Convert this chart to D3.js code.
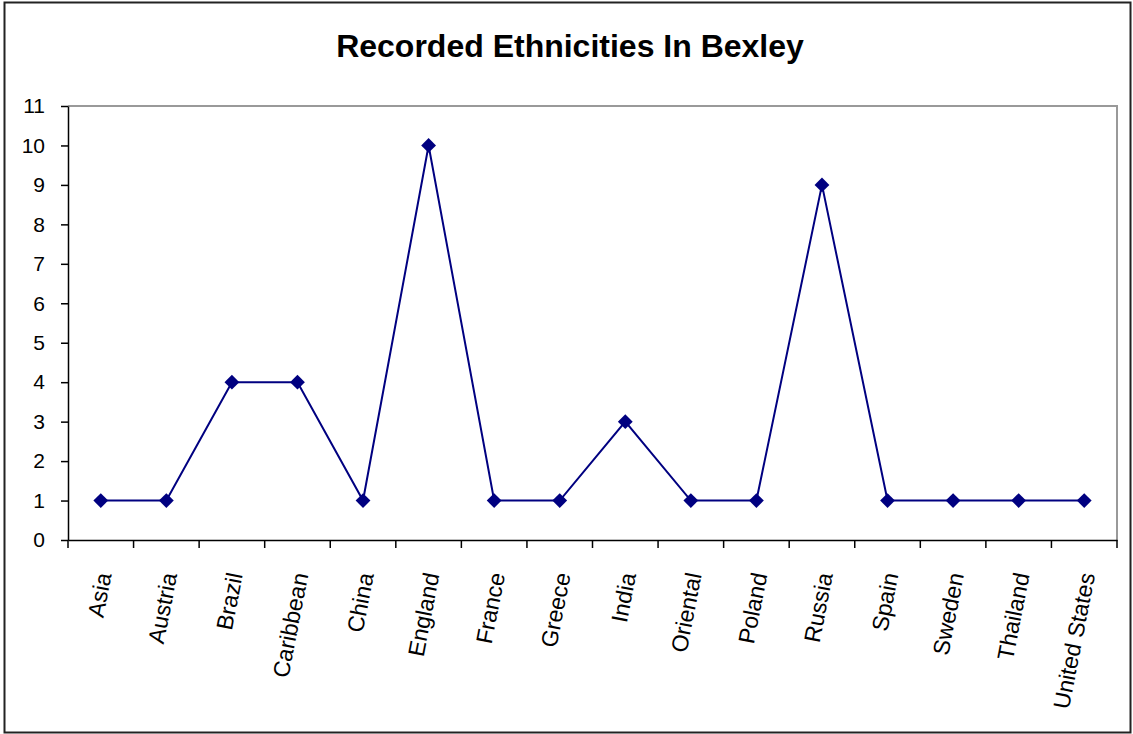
<!DOCTYPE html>
<html><head><meta charset="utf-8">
<script src="https://cdn.jsdelivr.net/npm/d3@7"></script>
<style>body{margin:0;background:#fff}svg{display:block}</style>
</head><body>
<svg id="c" width="1133" height="734"></svg>
<script>
const categories = ["Asia","Austria","Brazil","Caribbean","China","England","France","Greece","India","Oriental","Poland","Russia","Spain","Sweden","Thailand","United States"];
const values = [1,1,4,4,1,10,1,1,3,1,1,9,1,1,1,1];
const yTicks = [0,1,2,3,4,5,6,7,8,9,10,11];
const title = "Recorded Ethnicities In Bexley";

const svg = d3.select("#c");
const font = "'Liberation Sans', Arial, sans-serif";
const m = {left:68, right:1117, top:106, bottom:540};

svg.append("rect").attr("x",4.5).attr("y",2.5).attr("width",1126).attr("height",730)
  .attr("fill","#fff").attr("stroke","#222").attr("stroke-width",2);

svg.append("text").attr("x",570).attr("y",57).attr("text-anchor","middle")
  .attr("font-family",font).attr("font-weight","bold").attr("font-size",32).text(title);

const x = d3.scaleBand().domain(categories).range([m.left,m.right]);
const y = d3.scaleLinear().domain([0,11]).range([m.bottom,m.top]);

// plot area border (gray top/right)
svg.append("path").attr("d",`M${m.left},${m.top}H${m.right}V${m.bottom}`)
  .attr("fill","none").attr("stroke","#999").attr("stroke-width",2);

// y axis
const ya = svg.append("g").attr("transform",`translate(${m.left},0)`)
  .call(d3.axisLeft(y).tickValues(yTicks).tickSize(7).tickPadding(16).tickSizeOuter(0));
ya.select(".domain").attr("stroke","#000").attr("stroke-width",1.5);
ya.selectAll(".tick line").attr("stroke","#000").attr("stroke-width",1.5);
ya.selectAll("text").attr("font-family",font).attr("font-size",21).attr("fill","#000");

// x axis
const xa = svg.append("g").attr("transform",`translate(0,${m.bottom})`)
  .call(d3.axisBottom(x).tickSize(0).tickSizeOuter(0));
xa.select(".domain").attr("stroke","#000").attr("stroke-width",1.5);
xa.selectAll(".tick line").remove();
// ticks at band boundaries
const bounds = categories.map(c=>x(c)).concat([m.right]);
xa.selectAll(".bt").data(bounds).enter().append("line")
  .attr("x1",d=>d).attr("x2",d=>d).attr("y1",0).attr("y2",8)
  .attr("stroke","#000").attr("stroke-width",1.5);
xa.selectAll(".tick text")
  .attr("font-family",font).attr("font-size",23).attr("fill","#000")
  .attr("text-anchor","end").attr("dy","0.35em").attr("y",0)
  .attr("transform",`translate(3,33) rotate(-79)`);

const cx = c => x(c) + x.bandwidth()/2;
const line = d3.line().x((d,i)=>cx(categories[i])).y(d=>y(d));
svg.append("path").datum(values).attr("d",line).attr("fill","none")
  .attr("stroke","#000080").attr("stroke-width",2);
svg.selectAll(".mk").data(values).enter().append("path")
  .attr("d",d3.symbol(d3.symbolSquare,110))
  .attr("transform",(d,i)=>`translate(${cx(categories[i])},${y(d)}) rotate(45)`)
  .attr("fill","#000080");
</script>
</body></html>
